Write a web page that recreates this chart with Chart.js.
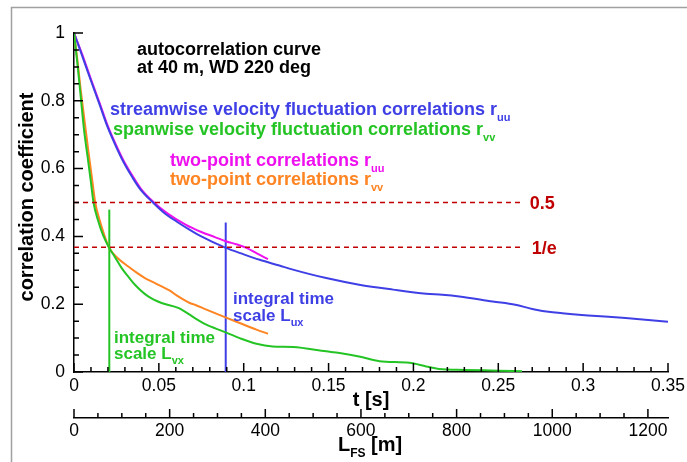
<!DOCTYPE html>
<html><head><meta charset="utf-8">
<script src="https://cdn.jsdelivr.net/npm/chart.js@4.4.1/dist/chart.umd.min.js"></script>
<style>html,body{margin:0;padding:0;background:#fff}canvas{display:block}</style>
</head><body>
<canvas id="c" width="687" height="462"></canvas>
<script>
// ---- tick labels ----
const tTickLabels = ['0','0.05','0.1','0.15','0.2','0.25','0.3','0.35'];
const rTickLabels = ['0','0.2','0.4','0.6','0.8','1'];
const lTickLabels = ['0','200','400','600','800','1000','1200'];
const tRange = [0, 0.35];
const rRange = [0, 1];
const lRange = [0, 1242];

// ---- autocorrelation, streamwise r_uu ----
const uuAutoT = [0,0.005,0.0098,0.015,0.0196,0.0245,0.0294,0.0343,0.0392,0.0465,0.053,0.0604,0.068,0.075,0.0888,0.1,0.1094,0.121,0.129,0.1486,0.168,0.188,0.2075,0.217,0.227,0.2467,0.26,0.27,0.282,0.3055,0.325,0.35];
const uuAutoR = [1,0.93,0.862,0.79,0.725,0.668,0.617,0.575,0.538,0.5,0.47,0.444,0.42,0.40,0.3675,0.347,0.331,0.314,0.302,0.277,0.2575,0.243,0.231,0.228,0.223,0.208,0.1985,0.186,0.176,0.166,0.159,0.148];
// ---- autocorrelation, spanwise r_vv ----
const vvAutoT = [0,0.002,0.004,0.0059,0.008,0.0098,0.0115,0.014,0.017,0.0206,0.024,0.028,0.0322,0.0359,0.0437,0.0516,0.0614,0.0682,0.0712,0.078,0.0878,0.0976,0.1075,0.117,0.129,0.1486,0.1565,0.168,0.18,0.1976,0.2075,0.215,0.23,0.25,0.264];
const vvAutoR = [1,0.91,0.81,0.715,0.635,0.567,0.5,0.45,0.405,0.3675,0.34,0.307,0.28,0.2575,0.223,0.2035,0.189,0.169,0.159,0.1395,0.12,0.10,0.0835,0.0755,0.0737,0.061,0.056,0.046,0.032,0.027,0.0165,0.009,0.006,0.004,0.002];
// ---- two-point r_uu ----
const uuTwoT = [0,0.005,0.0098,0.015,0.0196,0.0245,0.0294,0.0343,0.0392,0.0465,0.055,0.066,0.075,0.083,0.0898,0.0955,0.1016,0.108,0.1143];
const uuTwoR = [1,0.935,0.866,0.795,0.73,0.673,0.622,0.58,0.542,0.503,0.468,0.434,0.413,0.398,0.385,0.377,0.366,0.349,0.333];
// ---- two-point r_vv ----
const vvTwoT = [0,0.002,0.004,0.0065,0.0085,0.0105,0.0125,0.015,0.0178,0.0206,0.026,0.032,0.0369,0.0418,0.0466,0.0516,0.0565,0.0614,0.0682,0.0712,0.078,0.0878,0.0976,0.1075,0.1143];
const vvTwoR = [1,0.92,0.83,0.73,0.65,0.575,0.5,0.45,0.405,0.3675,0.335,0.311,0.293,0.277,0.265,0.2526,0.24,0.223,0.2035,0.1985,0.184,0.164,0.1445,0.125,0.113];
// ---- reference levels and integral time scales ----
const levelValues = [0.5, 0.3679];
const levelLabels = ['0.5', '1/e'];
const levelEndT = 0.265;
const integralT = [0.0208, 0.0894];     // L_vx, L_ux
const integralTop = [0.479, 0.441];

const BLUE = '#3f3fe6', GREEN = '#25c425', MAGENTA = '#ee10ee', ORANGE = '#ff8422', RED = '#c00000';
const FAM = '"Liberation Sans", Arial, Helvetica, sans-serif';

function pts(t, r) { return t.map((x, i) => ({x: x, y: r[i]})); }
function lab(list) { return v => { const s = list.find(s => Math.abs(+s - v) < 1e-7); return s === undefined ? '' : s; }; }

const curve = (data, color) => ({data, borderColor: color, borderWidth: 2, showLine: true, pointRadius: 0, cubicInterpolationMode: 'monotone', fill: false});
const dashed = v => ({data: [{x: 0, y: v}, {x: levelEndT, y: v}], borderColor: RED, borderWidth: 1.5, borderDash: [5, 4], showLine: true, pointRadius: 0});
const vline = (t, top, color) => ({data: [{x: t, y: 0}, {x: t, y: top}], borderColor: color, borderWidth: 2, showLine: true, pointRadius: 0});

function richText(ctx, x, y, parts, color) {
  ctx.fillStyle = color; ctx.textAlign = 'left'; ctx.textBaseline = 'alphabetic';
  for (const p of parts) {
    ctx.font = 'bold ' + (p.sub ? p.size || 12 : p.size || 18) + 'px ' + FAM;
    ctx.fillText(p.t, x, y + (p.sub ? (p.dy || 6) : 0));
    x += ctx.measureText(p.t).width;
  }
}

const decor = {
  id: 'decor',
  beforeDraw(chart) {
    const ctx = chart.ctx; ctx.save();
    ctx.fillStyle = '#fff'; ctx.fillRect(0, 0, chart.width, chart.height);
    ctx.strokeStyle = '#a0a0a0'; ctx.lineWidth = 1.5;
    ctx.beginPath(); ctx.moveTo(11.5, chart.height); ctx.lineTo(11.5, 7.5); ctx.lineTo(chart.width, 7.5); ctx.stroke();
    ctx.restore();
  },
  afterDraw(chart) {
    const ctx = chart.ctx, xs = chart.scales.x, ys = chart.scales.y, ls = chart.scales.x2;
    ctx.save();
    ctx.strokeStyle = '#000'; ctx.lineWidth = 1.5;
    ctx.beginPath();
    for (let i = 0; i <= 20; i++) { const v = i * 0.05, p = ys.getPixelForValue(v), len = i % 4 === 0 ? 9 : 5; ctx.moveTo(xs.left, p); ctx.lineTo(xs.left + len, p); }
    for (let i = 0; i <= 35; i++) { const v = i * 0.01, p = xs.getPixelForValue(v), len = i % 5 === 0 ? 9 : 5; ctx.moveTo(p, ys.bottom); ctx.lineTo(p, ys.bottom - len); }
    for (let i = 0; i * 50 <= lRange[1]; i++) { const v = i * 50, p = ls.getPixelForValue(v), len = i % 4 === 0 ? 9 : 5; ctx.moveTo(p, ls.top); ctx.lineTo(p, ls.top - len); }
    ctx.stroke();

    // axis titles
    ctx.fillStyle = '#000'; ctx.font = 'bold 20px ' + FAM; ctx.textAlign = 'center'; ctx.textBaseline = 'alphabetic';
    ctx.fillText('t [s]', (xs.left + xs.right) / 2, 406);
    ctx.save(); ctx.translate(33, 197); ctx.rotate(-Math.PI / 2); ctx.fillText('correlation coefficient', 0, 0); ctx.restore();
    richText(ctx, 338, 451, [{t: 'L', size: 20}, {t: 'FS', sub: true, size: 12, dy: 6}, {t: ' [m]', size: 20}], '#000');

    // annotations
    richText(ctx, 137, 55, [{t: 'autocorrelation curve'}], '#000');
    richText(ctx, 137, 73, [{t: 'at 40 m, WD 220 deg'}], '#000');
    richText(ctx, 110, 115, [{t: 'streamwise velocity fluctuation correlations r'}, {t: 'uu', sub: true, size: 11}], BLUE);
    richText(ctx, 113, 135, [{t: 'spanwise velocity fluctuation correlations r'}, {t: 'vv', sub: true, size: 11}], GREEN);
    richText(ctx, 170, 166, [{t: 'two-point correlations r'}, {t: 'uu', sub: true, size: 11}], MAGENTA);
    richText(ctx, 170, 184.5, [{t: 'two-point correlations r'}, {t: 'vv', sub: true, size: 11}], ORANGE);
    const endX = xs.getPixelForValue(levelEndT);
    levelValues.forEach((v, i) => richText(ctx, endX + 6 + (i ? 2 : 0), ys.getPixelForValue(v) + 6.5, [{t: levelLabels[i]}], RED));
    richText(ctx, 233, 304, [{t: 'integral time', size: 17}], BLUE);
    richText(ctx, 233, 320.5, [{t: 'scale L', size: 17}, {t: 'ux', sub: true, size: 11, dy: 5.5}], BLUE);
    richText(ctx, 114, 342.5, [{t: 'integral time', size: 17}], GREEN);
    richText(ctx, 114, 358.5, [{t: 'scale L', size: 17}, {t: 'vx', sub: true, size: 11, dy: 5.5}], GREEN);
    ctx.restore();
  }
};

const tickFont = {family: FAM, size: 17.5};
function fixPad(s) { s.paddingLeft = 0; s.paddingRight = 0; s.paddingTop = 0; s.paddingBottom = 0; }

new Chart(document.getElementById('c'), {
  type: 'scatter',
  data: {
    datasets: [
      dashed(levelValues[0]), dashed(levelValues[1]),
      curve(pts(vvAutoT, vvAutoR), GREEN),
      curve(pts(vvTwoT, vvTwoR), ORANGE),
      curve(pts(uuAutoT, uuAutoR), BLUE),
      curve(pts(uuTwoT, uuTwoR), MAGENTA),
      vline(integralT[0], integralTop[0], GREEN),
      vline(integralT[1], integralTop[1], BLUE)
    ]
  },
  options: {
    responsive: false, animation: false, devicePixelRatio: 1,
    layout: {padding: {left: 0, right: 19, top: 33, bottom: 0}},
    plugins: {legend: {display: false}, tooltip: {enabled: false}},
    scales: {
      x: {type: 'linear', position: 'bottom', weight: 0, min: tRange[0], max: tRange[1],
          grid: {display: false, drawTicks: false}, border: {display: true, color: '#000', width: 1.5},
          ticks: {stepSize: 0.05, autoSkip: false, maxRotation: 0, includeBounds: false, padding: 4, color: '#000', font: tickFont, callback: lab(tTickLabels)},
          afterFit: s => { s.height = 46; fixPad(s); }},
      x2: {type: 'linear', position: 'bottom', weight: 1, min: lRange[0], max: lRange[1],
          grid: {display: false, drawTicks: false}, border: {display: true, color: '#000', width: 1.5},
          ticks: {stepSize: 200, autoSkip: false, maxRotation: 0, includeBounds: false, padding: 3, color: '#000', font: tickFont, callback: lab(lTickLabels)},
          afterFit: s => { s.height = 44; fixPad(s); }},
      y: {type: 'linear', position: 'left', min: rRange[0], max: rRange[1],
          grid: {display: false, drawTicks: false}, border: {display: true, color: '#000', width: 1.5},
          ticks: {stepSize: 0.2, autoSkip: false, includeBounds: false, padding: 9, color: '#000', font: tickFont, callback: lab(rTickLabels)},
          afterFit: s => { s.width = 74; fixPad(s); }}
    }
  },
  plugins: [decor]
});
</script>
</body></html>
